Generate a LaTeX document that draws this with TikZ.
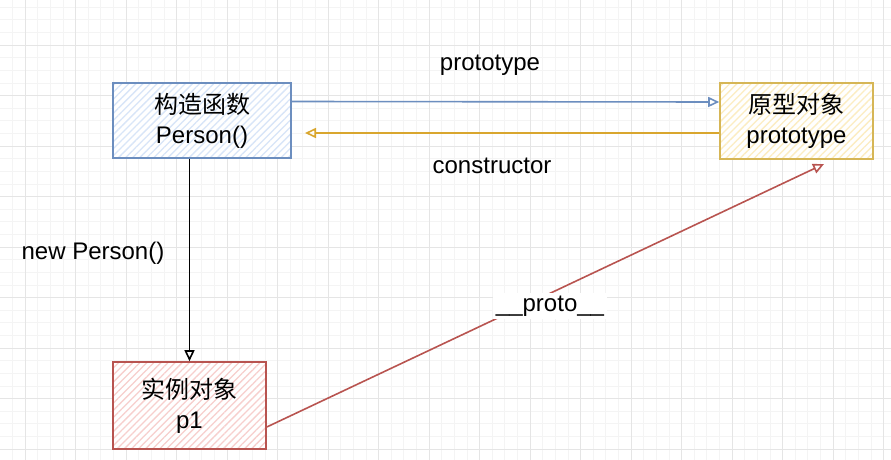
\documentclass[tikz,border=0pt]{standalone}
\usepackage{fontspec}
\setmainfont{Liberation Sans}
\newfontfamily\cjk{Noto Sans CJK SC}
\usepackage{tikz}
\usetikzlibrary{arrows.meta, patterns.meta}

\definecolor{blueline}{HTML}{6C8EBF}
\definecolor{bluehatch}{HTML}{D8E5F8}
\definecolor{yellowline}{HTML}{D6B656}
\definecolor{yellowhatch}{HTML}{FCEDC2}
\definecolor{yellowarrow}{HTML}{D9A62E}
\definecolor{redline}{HTML}{B85450}
\definecolor{redhatch}{HTML}{F7CFCD}

\begin{document}
\begin{tikzpicture}[x=1pt, y=-1pt,
        gridminor/.style={draw=gray!9, line width=0.7pt},
        gridmajor/.style={draw=gray!20, line width=0.9pt},
        box/.style={draw, rectangle, line width=1.6pt, inner sep=0pt, align=center,
            font=\fontsize{24}{30}\selectfont, preaction={fill=white}},
        label/.style={font=\fontsize{24}{30}\selectfont, inner sep=1pt},
        tip/.style={-{Triangle[open, length=11pt, width=10pt]}, line width=1.6pt}]
        % Grid
        \useasboundingbox (0,0) rectangle (891,460);
        \foreach \i in {0,...,71}
            \draw[gridminor] ({-0.25+12.625*\i},0) -- ({-0.25+12.625*\i},460);
        \foreach \i in {0,...,37}
            \draw[gridminor] (0,{-5.5+12.625*\i}) -- (891,{-5.5+12.625*\i});
        \foreach \i in {0,...,17}
            \draw[gridmajor] ({25+50.5*\i},0) -- ({25+50.5*\i},460);
        \foreach \i in {0,...,8}
            \draw[gridmajor] (0,{45+50.5*\i}) -- (891,{45+50.5*\i});

        % Nodes
        \node (cons) [box, draw=blueline, minimum width=178pt, minimum height=75pt,
            pattern={Lines[angle=45, distance=5pt, line width=1.3pt]}, pattern color=bluehatch]
            at (202,120.5) {{\cjk 构造函数}\\Person()};
        \node (proto) [box, draw=yellowline, minimum width=153pt, minimum height=76pt,
            pattern={Lines[angle=45, distance=5pt, line width=1.3pt]}, pattern color=yellowhatch]
            at (796.5,121) {{\cjk 原型对象}\\prototype};
        \node (inst) [box, draw=redline, minimum width=153pt, minimum height=87pt,
            pattern={Lines[angle=45, distance=5pt, line width=1.3pt]}, pattern color=redhatch]
            at (189.5,405.5) {{\cjk 实例对象}\\p1};

        \coordinate (consin) at (305,133);
        \coordinate (protoin) at (824,164);

        % Labels
        \node (lblprototype) [label] at (490,65) {prototype};
        \node (lblconstructor) [label] at (492,166) {constructor};
        \node (lblnew) [label] at (93,253) {new Person()};

        % Arrows
        \draw[tip, blueline] ([yshift=19pt]cons.east) -- ([yshift=19pt]proto.west);
        \draw[tip, yellowarrow] ([yshift=-12pt]proto.west) -- (consin);
        \draw[tip, black] (inst.north |- cons.south) -- (inst.north);
        \draw[tip, redline] ([yshift=-21.5pt]inst.east) -- (protoin);
        \node (lblproto) [label, fill=white, inner sep=3pt] at (550,306) {\_\_proto\_\_};
    \end{tikzpicture}
\end{document}
